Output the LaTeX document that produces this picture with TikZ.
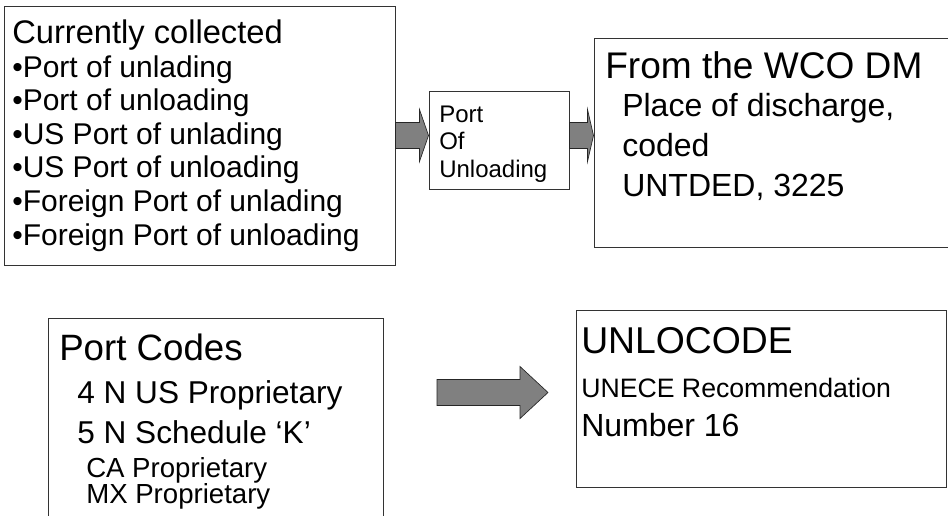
\documentclass[tikz,border=0pt]{standalone}
\usepackage{fontspec}
\setmainfont{Liberation Sans}
\usetikzlibrary{calc}
\definecolor{arrowgray}{RGB}{128,128,128}
\tikzset{
    box/.style={draw=black!80, line width=0.75pt, inner sep=0pt, rectangle},
    txt/.style={anchor=base west, inner sep=0pt},
    bigarrow/.style={fill=arrowgray, draw=black!85, line width=0.5pt},
}
\newcommand{\fatarrow}[3]{%
    \path[bigarrow] let \p1=(#1), \p2=(#2) in
        (\x1,\y1+9.75pt) -- (\x2-#3,\y1+9.75pt) -- (\x2-#3,\y1+19.5pt) -- (\x2,\y1)
        -- (\x2-#3,\y1-19.5pt) -- (\x2-#3,\y1-9.75pt) -- (\x1,\y1-9.75pt) -- cycle;
}

\begin{document}
\begin{tikzpicture}[x=0.75pt, y=-0.75pt]
\clip (0,0) rectangle (948,515);
\fill[white] (0,0) rectangle (948,515);

\node[box, minimum width=391*0.75pt, minimum height=259*0.75pt] (cur) at (199.5,135.5) {};
\node[box, minimum width=140*0.75pt, minimum height=98*0.75pt] (pou) at (499,140) {};
\node[box, minimum width=366*0.75pt, minimum height=209*0.75pt] (wco) at (777,142.5) {};
\node[box, minimum width=335*0.75pt, minimum height=222*0.75pt] (codes) at (215.5,429) {};
\node[box, minimum width=370*0.75pt, minimum height=177*0.75pt] (unl) at (761,398.5) {};

\node[txt, font=\fontsize{24.5}{24.5}\selectfont] (cc) at (12,43) {Currently collected};
\node[txt, font=\fontsize{22.5}{22.5}\selectfont] (c1) at (12,77) {•Port of unlading};
\node[txt, font=\fontsize{22.5}{22.5}\selectfont] (c2) at (12,110) {•Port of unloading};
\node[txt, font=\fontsize{22.5}{22.5}\selectfont] (c3) at (12,144) {•US Port of unlading};
\node[txt, font=\fontsize{22.5}{22.5}\selectfont] (c4) at (12,177) {•US Port of unloading};
\node[txt, font=\fontsize{22.5}{22.5}\selectfont] (c5) at (12,211) {•Foreign Port of unlading};
\node[txt, font=\fontsize{22.5}{22.5}\selectfont] (c6) at (12,245) {•Foreign Port of unloading};

\node[txt, font=\fontsize{18}{18}\selectfont] (p1) at (439,122) {Port};
\node[txt, font=\fontsize{18}{18}\selectfont] (p2) at (439,149) {Of};
\node[txt, font=\fontsize{18}{18}\selectfont] (p3) at (439,177) {Unloading};

\node[txt, font=\fontsize{27.8}{27.8}\selectfont] (w0) at (605,78) {From the WCO DM};
\node[txt, font=\fontsize{24}{24}\selectfont] (w1) at (622,116) {Place of discharge,};
\node[txt, font=\fontsize{24}{24}\selectfont] (w2) at (622,156) {coded};
\node[txt, font=\fontsize{24}{24}\selectfont] (w3) at (622,196) {UNTDED, 3225};

\node[txt, font=\fontsize{27.5}{27.5}\selectfont] (k0) at (59,360) {Port Codes};
\node[txt, font=\fontsize{23.7}{23.7}\selectfont] (k1) at (77,403) {4 N US Proprietary};
\node[txt, font=\fontsize{23.7}{23.7}\selectfont] (k2) at (77,443) {5 N Schedule ‘K’};
\node[txt, font=\fontsize{20.7}{20.7}\selectfont] (k3) at (86,477) {CA Proprietary};
\node[txt, font=\fontsize{20.7}{20.7}\selectfont] (k4) at (86,503) {MX Proprietary};

\node[txt, font=\fontsize{28}{28}\selectfont] (u0) at (581,353) {UNLOCODE};
\node[txt, font=\fontsize{20}{20}\selectfont] (u1) at (581,397) {UNECE Recommendation};
\node[txt, font=\fontsize{24}{24}\selectfont] (u2) at (581,436) {Number 16};

\coordinate (s3) at (437,392.5);
\coordinate (e3) at (548,392.5);
\fatarrow{cur.east}{pou.west}{6.75pt}
\fatarrow{pou.east |- cur.east}{wco.west}{4.5pt}
\fatarrow{s3}{e3}{21pt}
\end{tikzpicture}
\end{document}
